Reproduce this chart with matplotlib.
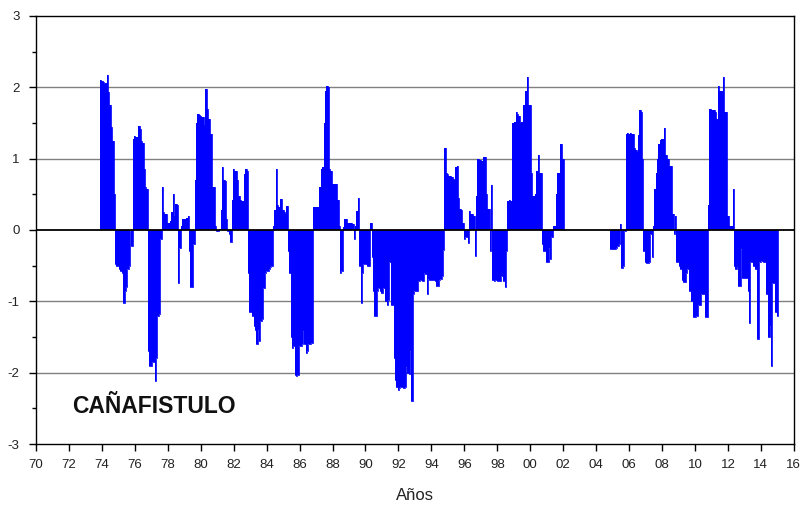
import numpy as np
import matplotlib.pyplot as plt

# monthly index values, first record ~ Nov 1973
start_year = 1973.87
part1 = [
    2.10, 2.09, 2.08, 2.05, 2.06, 2.17, 1.93, 1.75, 1.45, 1.25, 0.50, -0.48,
    -0.50, -0.50, -0.55, -0.58, -0.60, -1.03, -0.85, -0.80, -0.55, -0.50, -0.02, -0.23,
    1.28, 1.32, 1.31, 1.30, 1.46, 1.42, 1.25, 1.22, 0.85, 0.60, 0.58, -1.70,
    -1.90, -1.90, -1.85, -1.85, -2.12, -1.80, -1.20, -1.18, -0.12, 0.60, 0.25, 0.22,
    0.22, 0.10, 0.10, 0.12, 0.25, 0.50, 0.20, 0.36, 0.35, -0.75, -0.25, 0.05,
    0.15, 0.16, 0.16, 0.17, 0.20, -0.30, -0.80, -0.80, -0.20, 0.70, 1.50, 1.62,
    1.61, 1.60, 1.58, 1.58, 1.47, 1.97, 1.70, 1.55, 1.35, 1.35, 0.60, 0.60,
    0.05, -0.02, -0.02, 0.02, 0.28, 0.88, 0.70, 0.68, 0.15, -0.02, -0.05, -0.17,
    0.42, 0.85, 0.83, 0.82, 0.70, 0.48, 0.42, 0.40, 0.40, 0.78, 0.85, 0.83,
    -0.60, -1.15, -1.15, -1.20, -1.35, -1.40, -1.60, -1.40, -1.55, -1.28, -1.25, -0.82,
    -0.60, -0.57, -0.57, -0.55, -0.52, -0.50, 0.05, 0.28, 0.85, 0.35, 0.32, 0.43,
    0.43, 0.28, 0.25, 0.22, 0.33, -0.30, -0.60, -1.50, -1.65, -1.63, -2.03, -2.05,
    -2.03, -1.62, -1.62, -1.60, -1.42, -1.60, -1.72, -1.70, -1.60, -1.60, -1.58, 0.32,
    0.32, 0.32, 0.32, 0.32, 0.60, 0.85, 0.88, 1.50, 1.95, 2.02, 2.00, 0.85,
    0.82, 0.65, 0.65, 0.65, 0.65, 0.42, 0.05, -0.60, -0.58, 0.04, 0.15, 0.15,
    0.10, 0.10, 0.10, 0.10, 0.08, -0.12, 0.05, 0.27, 0.45, -0.50, -1.03, -0.60,
    -0.48, -0.48, -0.48, -0.50, -0.50, 0.10, -0.38, -0.85, -1.20, -1.20, -0.85, -0.82,
    -0.85, -0.88, -0.82, -0.82, -1.00, -1.05, -0.98, -0.45, -1.05, -1.05, -1.80, -2.10,
    -2.20, -2.25, -2.22, -2.20, -2.20, -2.22, -2.20, -1.92, -2.00, -2.02, -1.70, -2.40,
    -0.90, -0.85, -0.85, -0.85, -0.72, -0.70, -0.70, -0.72, -0.60, -0.62, -0.90, -0.68,
    -0.70, -0.70, -0.70, -0.70, -0.72, -0.78, -0.78, -0.70, -0.68, -0.65, -0.28, 1.15,
    0.80, 0.78, 0.76, 0.75, 0.74, 0.72, 0.70, 0.88, 0.90, 0.45, 0.30, 0.28,
    0.10, -0.12, -0.10, -0.10, -0.18, 0.26, 0.22, 0.22, 0.20, -0.37, 0.48, 1.00,
    0.98, 0.98, 0.97, 1.02, 1.02, 0.50, 0.30, 0.30, -0.30, 0.63, -0.70, -0.72,
    -0.70, -0.72, -0.72, -0.72, -0.65, -0.65, -0.72, -0.80, -0.30, 0.40, 0.42, 0.40,
    1.50, 1.50, 1.52, 1.65, 1.62, 1.60, 1.50, 1.52, 1.75, 1.75, 1.95, 2.15,
    1.75, 1.75, 0.80, 0.47, 0.47, 0.50, 0.82, 1.05, 0.80, 0.80, -0.20, -0.30,
    -0.30, -0.45, -0.45, -0.25, -0.40, -0.10, 0.05, 0.05, 0.50, 0.80, 0.80, 1.20,
    1.20, 1.00,
]
gap_months = 34
part2 = [
    -0.27, -0.27, -0.27, -0.26, -0.25, -0.22, -0.20, 0.08, -0.53, -0.50, -0.02, 1.35,
    1.36, 1.35, 1.36, 1.35, 1.35, 1.15, 1.12, 1.10, 1.33, 1.68, 1.65, 1.00,
    -0.30, -0.45, -0.46, -0.46, -0.45, -0.05, -0.38, 0.05, 0.58, 0.80, 1.00, 1.20,
    1.26, 1.27, 1.27, 1.43, 1.05, 1.00, 1.00, 0.90, 0.90, 0.23, -0.05, 0.20,
    -0.45, -0.45, -0.50, -0.55, -0.70, -0.73, -0.73, -0.60, -0.55, -0.85, -0.85, -1.00,
    -1.22, -1.22, -1.20, -1.20, -1.05, -1.05, -0.90, -0.90, -0.90, -1.22, -1.22, 0.35,
    1.70, 1.68, 1.68, 1.68, 1.66, 1.55, 2.02, 1.95, 1.95, 1.95, 2.15, 1.65,
    1.65, 0.20, 0.05, 0.05, 0.05, 0.57, -0.50, -0.55, -0.52, -0.78, -0.78, -0.27,
    -0.67, -0.67, -0.67, -0.67, -0.85, -1.30, -0.45, -0.45, -0.50, -0.55, -0.55, -1.53,
    -0.45, -0.45, -0.43, -0.45, -0.45, -0.90, -0.90, -1.50, -1.35, -1.90, -0.75, -0.75,
    -1.15, -1.20,
]
year_ticks = list(range(1970, 2017, 2))
year_labels = ["%02d" % (y % 100) for y in year_ticks]

# month edges for both pieces of the record
edges1 = start_year + np.arange(len(part1) + 1) / 12.0
s2 = start_year + (len(part1) + gap_months) / 12.0
edges2 = s2 + np.arange(len(part2) + 1) / 12.0

plt.rcParams['font.family'] = ['Liberation Sans', 'DejaVu Sans']
plt.rcParams['axes.unicode_minus'] = False

fig = plt.figure(figsize=(8.01, 5.09), dpi=100)
ax = fig.add_axes([0.045, 0.1277, 0.946, 0.8409])

for v in [-2, -1, 1, 2]:
    ax.axhline(v, color='#808080', lw=1.0, zorder=1)

for vals, edges in [(part1, edges1), (part2, edges2)]:
    ax.stairs(vals, edges, baseline=0, fill=True, color='#0000ff', zorder=2)
    ax.stairs(vals, edges, baseline=0, fill=False, color='#0000ff', lw=0.6, zorder=2)
ax.axhline(0, color='black', lw=1.3, zorder=3)

ax.set_xlim(1970, 2016)
ax.set_ylim(-3, 3)
ax.set_xticks(year_ticks)
ax.set_xticklabels(year_labels)
ax.set_yticks(range(-3, 4))
ax.set_yticks(np.arange(-2.5, 3, 1), minor=True)
ax.tick_params(axis='both', which='major', direction='out', length=5,
               width=1, labelsize=9.5, colors='black', labelcolor='#222222')
ax.tick_params(axis='y', which='major', pad=7)
ax.tick_params(axis='x', which='major', pad=6)
ax.tick_params(axis='y', which='minor', direction='out', length=3, width=1)
for s in ax.spines.values():
    s.set_linewidth(1.0)

ax.text(1972.18, -2.57, "CAÑAFISTULO", fontsize=16.5, fontweight='bold',
        va='baseline', ha='left', color='#111111', zorder=4)
ax.set_xlabel("Años", fontsize=12, labelpad=12, color='#222222')

fig.savefig("out.png", dpi=100)
